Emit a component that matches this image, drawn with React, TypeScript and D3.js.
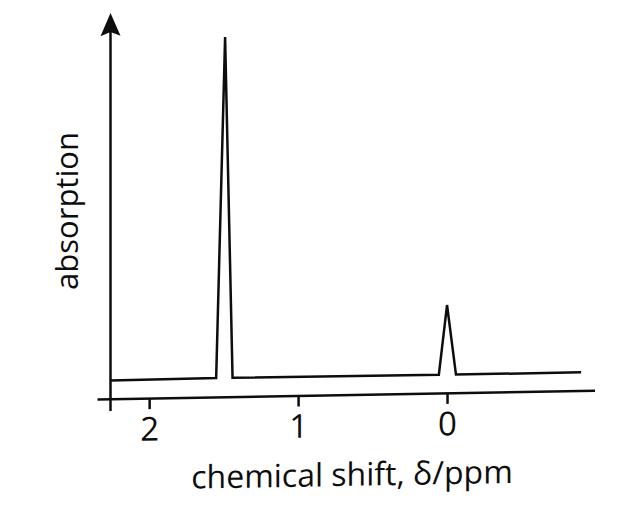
import React, { useEffect, useRef } from "react";
import * as d3 from "d3";

// chemical shift (ppm) and absorption (arbitrary units) of the trace
const shifts = [2.26, 1.55, 1.49, 1.44, 0.055, 0.0, -0.06, -0.9];
const absorption = [0.048, 0.05, 0.95, 0.05, 0.048, 0.232, 0.048, 0.048];
const tickValues = [2, 1, 0];
const xLabel = "chemical shift, δ/ppm";
const yLabel = "absorption";

const W = 633;
const H = 516;
const FONT = "'Open Sans', 'Noto Sans', sans-serif";
const INK = "#0d0d0d";

export default function App() {
  const ref = useRef<SVGSVGElement | null>(null);

  useEffect(() => {
    if (!ref.current) return;
    const svg = d3.select(ref.current);
    svg.selectAll("*").remove();

    const x = d3.scaleLinear().domain([2.35, -0.99]).range([97, 594.5]);
    const y = d3.scaleLinear().domain([0, 1]).range([398.8, 20]);

    // the scanned figure leans slightly (right side higher)
    const k = -0.0175;
    const g = svg
      .append("g")
      .attr("transform", `translate(0,${-110 * k}) skewY(${(Math.atan(k) * 180) / Math.PI})`);

    // x axis
    const ax = g
      .append("g")
      .attr("transform", `translate(0,${y(0)})`)
      .call(d3.axisBottom(x).tickValues(tickValues).tickSize(11).tickSizeOuter(0).tickPadding(8).tickFormat(d3.format("d")));
    ax.select(".domain").attr("stroke", INK).attr("stroke-width", 2.5);
    ax.selectAll(".tick line").attr("stroke", INK).attr("stroke-width", 2.5);
    ax.selectAll(".tick text")
      .attr("fill", INK)
      .style("font-family", FONT)
      .style("font-weight", 500)
      .style("font-size", "33px");

    // y axis with arrow
    const yx = 110.5;
    g.append("line")
      .attr("x1", yx).attr("x2", yx)
      .attr("y1", y(-0.032)).attr("y2", 30)
      .attr("stroke", INK).attr("stroke-width", 2.5);
    g.append("path")
      .attr("d", `M${yx},13 L${yx + 10},36 L${yx},32 L${yx - 10},36 Z`)
      .attr("fill", INK);

    // spectrum trace
    const line = d3.line<number>()
      .x((d) => x(shifts[d]))
      .y((d) => y(absorption[d]));
    g.append("path")
      .attr("d", line(d3.range(shifts.length)))
      .attr("fill", "none")
      .attr("stroke", INK)
      .attr("stroke-width", 2.5)
      .attr("stroke-linejoin", "miter");

    // axis titles
    g.append("text")
      .attr("x", 352)
      .attr("y", 490)
      .attr("text-anchor", "middle")
      .attr("fill", INK)
      .style("font-family", FONT)
      .style("font-weight", 500)
      .style("font-size", "32px")
      .text(xLabel);

    svg.append("text")
      .attr("transform", `translate(78,211) rotate(-90)`)
      .attr("text-anchor", "middle")
      .attr("fill", INK)
      .style("font-family", FONT)
      .style("font-weight", 500)
      .style("font-size", "31px")
      .text(yLabel);
  }, []);

  return (
    <svg
      ref={ref}
      width={W}
      height={H}
      style={{ position: "absolute", left: 0, top: 0, background: "#fff" }}
    />
  );
}
